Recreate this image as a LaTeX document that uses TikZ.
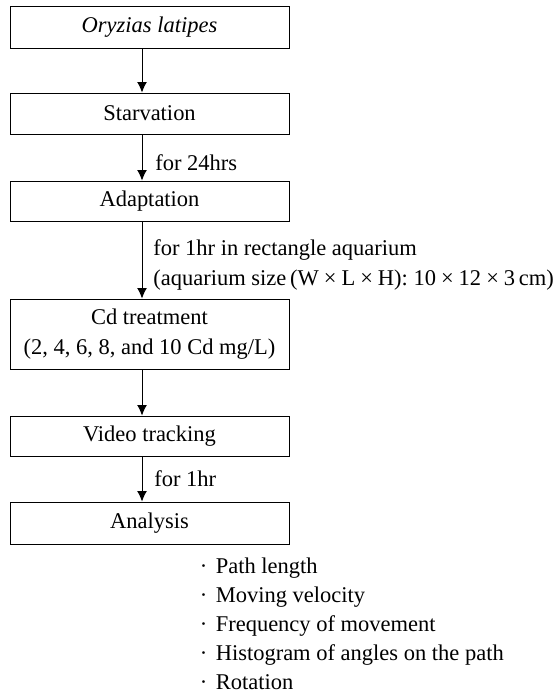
\documentclass[tikz,border=0pt]{standalone}
\usepackage{fontspec}
\setmainfont{Liberation Serif}
\usetikzlibrary{arrows.meta}

\begin{document}
\begin{tikzpicture}[
                stage/.style={draw, rectangle, line width=0.5pt, minimum width=5.58cm, minimum height=0.8cm, align=center},
                note/.style={anchor=west, align=left, inner sep=0pt},
                font=\fontsize{12.8}{15}\selectfont,
                ->, >={Latex[length=6pt, width=5.6pt]}
            ]
            \useasboundingbox (0,0) rectangle (11.1,-13.92);

            % Nodes
            \node[stage, minimum height=0.84cm] (fish) at (2.99, -0.54) {\textit{Oryzias latipes}};
            \node[stage, minimum height=0.82cm] (starve) at (2.99, -2.27) {Starvation};
            \node[stage] (adapt) at (2.99, -4.02) {Adaptation};
            \node[stage, minimum height=1.4cm] (cd) at (2.99, -6.68) {Cd treatment \\[2pt] (2, 4, 6, 8, and 10 Cd mg/L)};
            \node[stage] (video) at (2.99, -8.72) {Video tracking};
            \node[stage, minimum height=0.84cm] (analysis) at (2.99, -10.46) {Analysis};

            % Labels on the arrows
            \node[note] (fast) at (3.1, -3.26) {for 24hrs};
            \node[note] (tank) at (3.06, -5.3) {for 1hr in rectangle aquarium \\[2pt] (aquarium size\,(W\:×\:L\:×\:H): 10\:×\:12\:×\:3\,cm)};
            \node[note] (track) at (3.08, -9.58) {for 1hr};

            % Measured values
            \node[anchor=north west, align=left, inner sep=0pt, font=\fontsize{12.8}{16.4}\selectfont] (values) at (3.99, -11.16)
                {·\hspace{4.8pt}Path length \\ ·\hspace{4.8pt}Moving velocity \\ ·\hspace{4.8pt}Frequency of movement \\ ·\hspace{4.8pt}Histogram of angles on the path \\ ·\hspace{4.8pt}Rotation};

            % Edges
            \draw [->, line width=0.5pt] ([xshift=-0.15cm]fish.south) -- ([xshift=-0.15cm]starve.north);
            \draw [->, line width=0.5pt] ([xshift=-0.15cm]starve.south) -- ([xshift=-0.15cm]adapt.north);
            \draw [->, line width=0.5pt] ([xshift=-0.15cm]adapt.south) -- ([xshift=-0.15cm]cd.north);
            \draw [->, line width=0.5pt] ([xshift=-0.15cm]cd.south) -- ([xshift=-0.15cm]video.north);
            \draw [->, line width=0.5pt] ([xshift=-0.15cm]video.south) -- ([xshift=-0.15cm]analysis.north);

            \end{tikzpicture}
\end{document}
